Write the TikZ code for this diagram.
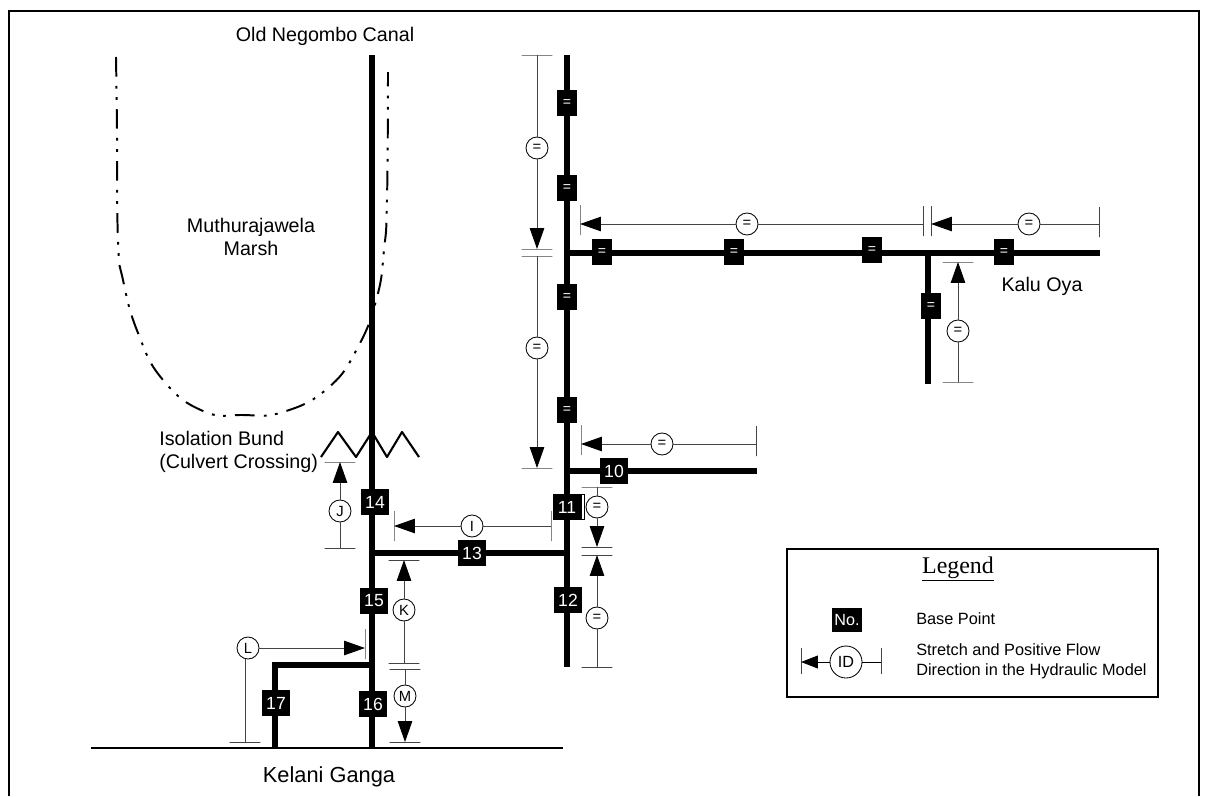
\documentclass[tikz,border=0pt]{standalone}
\usepackage{fontspec}
\setmainfont{Liberation Sans}
\newfontfamily\legendfont{Liberation Serif}
\usetikzlibrary{arrows.meta,positioning}
\definecolor{thinline}{HTML}{444444}
\tikzset{
  >={Triangle[length=5.2mm,width=3.6mm,color=black]},
  frameline/.style={draw=black,line width=0.9pt},
  % waterways
  canal/.style={draw=black,line width=4.6pt},
  river/.style={draw=black,line width=0.9pt},
  marsh/.style={draw=black,line width=1.4pt,line join=round,dash pattern=on 14pt off 6.5pt on 2pt off 6pt on 2pt off 6.5pt},
  bund/.style={draw=black,line width=1.5pt,line join=round},
  place/.style={font=\fontsize{14}{16.5}\selectfont,inner sep=0pt,align=center},
  % base points
  bp/.style={rectangle,fill=black,text=white,inner sep=0pt,minimum width=6.8mm,minimum height=6.3mm,
             font=\fontsize{12.5}{14}\selectfont},
  bpeq/.style={rectangle,fill=black,text=white,inner sep=0pt,minimum width=4.8mm,minimum height=6.4mm,
             font=\fontsize{10}{12}\selectfont},
  % stretches
  st/.style={circle,draw=black,fill=white,line width=0.6pt,inner sep=0pt,minimum size=5.5mm,
             font=\fontsize{10.5}{12}\selectfont},
  sa/.style={->,draw=thinline,line width=0.7pt},
  sl/.style={draw=thinline,line width=0.7pt},
  hbar/.style={rectangle,draw=thinline,line width=0.7pt,inner sep=0pt,outer sep=0pt,minimum width=7.7mm,minimum height=0pt},
  vbar/.style={rectangle,draw=thinline,line width=0.7pt,inner sep=0pt,outer sep=0pt,minimum height=7.5mm,minimum width=0pt},
  % legend
  legbox/.style={rectangle,draw=black,line width=0.9pt,minimum width=92.75mm,minimum height=37mm,inner sep=0pt},
  legtext/.style={font=\fontsize{11.6}{14.2}\selectfont,inner sep=0pt,align=left,anchor=west},
}
\begin{document}
\begin{tikzpicture}[x=0.025cm,y=-0.025cm]
\useasboundingbox (0,0) rectangle (1208,796);
  % frame, open at the bottom
  \coordinate (fa) at (9,796);
  \coordinate (fb) at (9,11);
  \coordinate (fc) at (1199,11);
  \coordinate (fd) at (1199,796);
  \draw[frameline] (fa) -- (fb) -- (fc) -- (fd);
  % marsh boundary
  \draw[marsh] plot[smooth,tension=0.8] coordinates {(116,57) (117,130) (118,240) (123,280)
     (138,333) (163,380) (203,411) (243,415) (283,412) (328,388)
     (358,347) (377,297) (384,250) (387,200) (388,72)};
  % canals
  \coordinate (oldtop) at (372,55);
  \coordinate (oldjoin) at (372,553);
  \coordinate (oldbranch) at (372,665);
  \coordinate (oldend) at (372,748);
  \coordinate (eastop) at (567,55);
  \coordinate (eastkalu) at (567,253);
  \coordinate (eastten) at (567,471);
  \coordinate (eastjoin) at (567,553);
  \coordinate (eastend) at (567,667);
  \coordinate (kaluarm) at (928,253);
  \coordinate (kaluend) at (1100,253);
  \coordinate (armend) at (928,384);
  \coordinate (tenend) at (757,471);
  \coordinate (seventop) at (275,665);
  \coordinate (sevenend) at (275,748);
  \coordinate (rivl) at (91,748);
  \coordinate (rivr) at (563,748);
  \draw[canal] (oldtop) -- (oldend);
  \draw[canal] (eastop) -- (eastend);
  \draw[canal] (eastkalu) -- (kaluend);
  \draw[canal] (kaluarm) -- (armend);
  \draw[canal] (eastten) -- (tenend);
  \draw[canal] (oldjoin) -- (eastjoin);
  \draw[canal,line join=miter] (oldbranch) -- (seventop) -- (sevenend);
  \draw[river] (rivl) -- (rivr);
  \draw[bund] (321,457) -- (338,432) -- (356,457) -- (372,432) -- (387,457) -- (402,432) -- (419,457);
  % base points
  \node[bpeq] (e1) at (567,103) {=};
  \node[bpeq] (e2) at (567,188) {=};
  \node[bpeq] (e3) at (567,297) {=};
  \node[bpeq] (e4) at (567,410) {=};
  \node[bpeq] (k1) at (602,252) {=};
  \node[bpeq] (k2) at (734,252) {=};
  \node[bpeq] (k3) at (872,250) {=};
  \node[bpeq] (k4) at (1004,252) {=};
  \node[bpeq] (k5) at (931,306) {=};
  \node[bp] (n10) at (614,471) {10};
  \node[bp] (n11) at (567,507) {11};
  \node[rectangle,draw=black,fill=white,line width=0.4pt,inner sep=0pt,minimum width=0.8mm,minimum height=6.3mm,right=0pt of n11] (n11side) {};
  \node[bp] (n12) at (568,600) {12};
  \node[bp] (n13) at (472,553) {13};
  \node[bp] (n14) at (375,502) {14};
  \node[bp] (n15) at (374,601) {15};
  \node[bp] (n16) at (373,704) {16};
  \node[bp] (n17) at (276,703) {17};
  % stretches on the east canal
  \node[st] (s1) at (537,148) {=};
  \node[hbar] (s1a) at (537,55) {};
  \node[hbar] (s1b) at (537,249) {};
  \draw[sl] (s1a) -- (s1);
  \draw[sa] (s1) -- (s1b);
  \node[st] (s2) at (537,348) {=};
  \node[hbar] (s2a) at (537,256) {};
  \node[hbar] (s2b) at (537,468) {};
  \draw[sl] (s2a) -- (s2);
  \draw[sa] (s2) -- (s2b);
  \node[st] (s3) at (747,224) {=};
  \node[vbar] (s3a) at (580,220) {};
  \node[vbar] (s3b) at (923,221) {};
  \draw[sa] (s3) -- (s3 -| s3a);
  \draw[sl] (s3) -- (s3 -| s3b);
  \node[st] (s4) at (1029,224) {=};
  \node[vbar] (s4a) at (931,221) {};
  \node[vbar] (s4b) at (1099,222) {};
  \draw[sa] (s4) -- (s4 -| s4a);
  \draw[sl] (s4) -- (s4 -| s4b);
  \node[st] (s5) at (958,331) {=};
  \node[hbar] (s5a) at (958,262) {};
  \node[hbar] (s5b) at (958,382) {};
  \draw[sa] (s5) -- (s5a);
  \draw[sl] (s5) -- (s5b);
  \node[st] (s6) at (662,444) {=};
  \node[vbar] (s6a) at (581,440) {};
  \node[vbar] (s6b) at (756,441) {};
  \draw[sa] (s6) -- (s6 -| s6a);
  \draw[sl] (s6) -- (s6 -| s6b);
  \node[st] (s7) at (597,507) {=};
  \node[hbar] (s7a) at (597,487) {};
  \node[hbar] (s7b) at (597,547) {};
  \draw[sl] (s7a) -- (s7);
  \draw[sa] (s7) -- (s7b);
  \node[st] (s8) at (597,618) {=};
  \node[hbar] (s8a) at (597,555) {};
  \node[hbar] (s8b) at (597,667) {};
  \draw[sa] (s8) -- (s8a);
  \draw[sl] (s8) -- (s8b);
  % stretches on the old canal
  \node[st] (si) at (472,526) {I};
  \node[vbar] (sia) at (394,526) {};
  \node[vbar] (sib) at (551,526) {};
  \draw[sa] (si) -- (sia);
  \draw[sl] (si) -- (sib);
  \node[st] (sj) at (340,511) {J};
  \node[hbar] (sja) at (340,462) {};
  \node[hbar] (sjb) at (340,548) {};
  \draw[sa] (sj) -- (sja);
  \draw[sl] (sj) -- (sjb);
  \node[st] (sk) at (404,610) {K};
  \node[hbar] (ska) at (404,560) {};
  \node[hbar] (skb) at (404,663) {};
  \draw[sa] (sk) -- (ska);
  \draw[sl] (sk) -- (skb);
  \node[st] (sl) at (248,648) {L};
  \node[vbar] (sla) at (365,644) {};
  \node[hbar] (slb) at (245,742) {};
  \draw[sa] (sl) -- (sl -| sla);
  \draw[sl] (sl.south -| slb) -- (slb);
  \node[st] (sm) at (405,696) {M};
  \node[hbar] (sma) at (405,669) {};
  \node[hbar] (smb) at (405,742) {};
  \draw[sl] (sma) -- (sm);
  \draw[sa] (sm) -- (smb);
  % names
  \node[place] (canalname) at (325,36) {Old Negombo Canal};
  \node[place] (marshname) at (251,237) {Muthurajawela\\Marsh};
  \node[place,align=left,anchor=west] (bundname) at (159,452) {Isolation Bund\\(Culvert Crossing)};
  \node[place] (kaluname) at (1042,286) {Kalu Oya};
  \node[place,font=\fontsize{15.5}{18}\selectfont] (kelaniname) at (329,777) {Kelani Ganga};
  % legend
  \node[legbox] (leg) at (972.5,623) {};
  \node[inner sep=0pt,font=\legendfont\fontsize{17}{20}\selectfont] (legtitle) at (958,569) {\underline{Legend}};
  \node[rectangle,fill=black,text=white,inner sep=0pt,minimum width=7.5mm,minimum height=6mm,font=\fontsize{11.5}{14}\selectfont] (legbp) at (847,620) {No.};
  \node[legtext] (legbase) at (916,619) {Base Point};
  \node[st,minimum size=8mm,font=\fontsize{11.5}{14}\selectfont] (legid) at (846,662) {ID};
  \node[vbar,minimum height=6.4mm] (lega) at (801,661) {};
  \node[vbar,minimum height=6.4mm] (legb) at (881,661) {};
  \draw[->,>={Triangle[length=4.2mm,width=3.2mm,color=black]},draw=black,line width=0.7pt] (legid) -- (legid -| lega);
  \draw[sl,draw=black] (legid) -- (legid -| legb);
  \node[legtext] (legstretch) at (916,661) {Stretch and Positive Flow\\Direction in the Hydraulic Model};
\end{tikzpicture}
\end{document}
